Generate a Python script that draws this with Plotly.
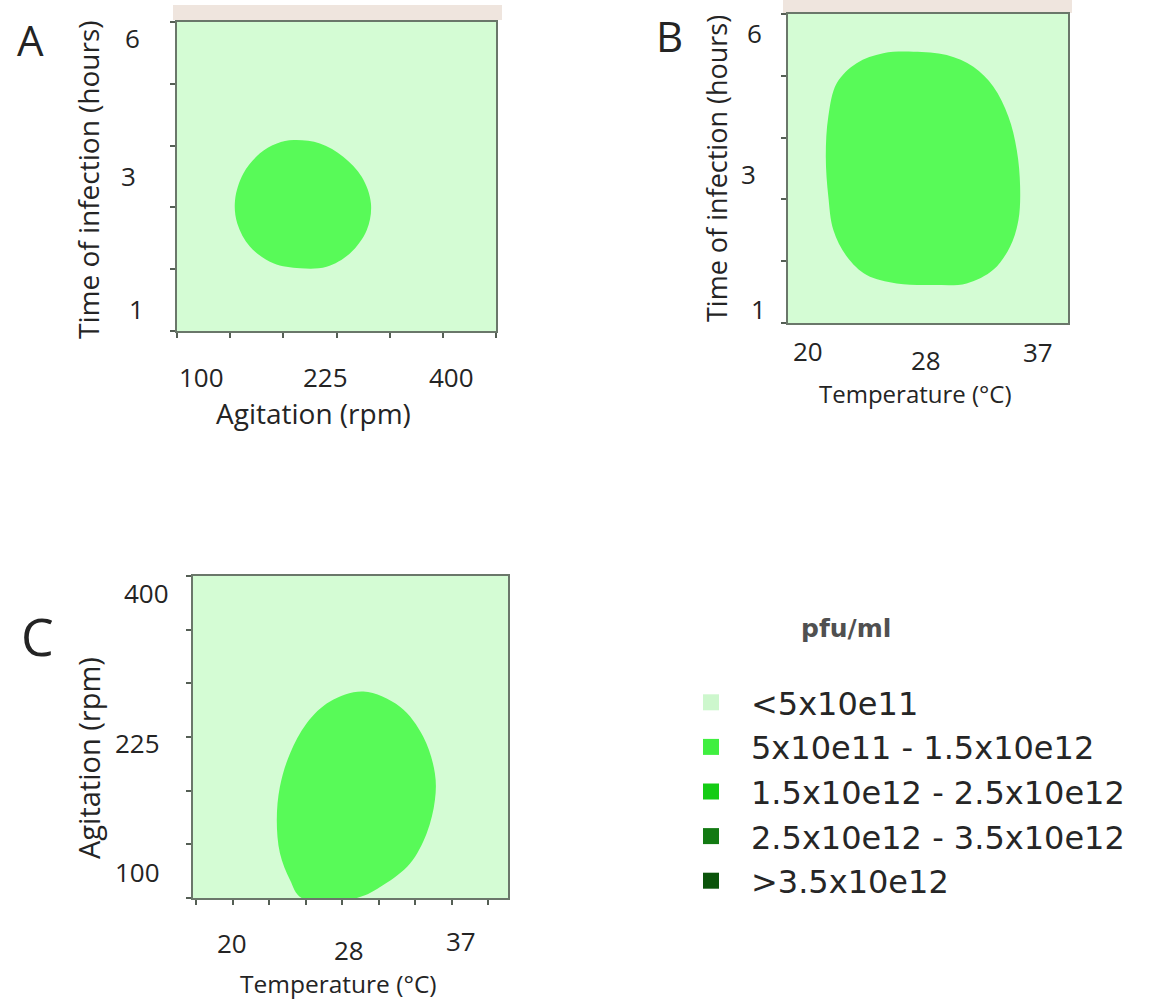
import plotly.graph_objects as go

W, H = 1152, 999

# ---- response classes (pfu/ml) ----
pfu_classes = ["<5x10e11", "5x10e11 - 1.5x10e12", "1.5x10e12 - 2.5x10e12",
               "2.5x10e12 - 3.5x10e12", ">3.5x10e12"]
class_colors = ["#cdf7cd", "#40ef40", "#14cc14", "#137a13", "#0b540b"]
low_color = "#d4fcd4"      # "<5x10e11" region
band_color = "#58fa58"     # "5x10e11 - 1.5x10e12" region

# ---- panel A: agitation (scaled 0-1 over plotted range) vs time of infection ----
a_agitation = [0.366, 0.448, 0.521, 0.579, 0.608, 0.595, 0.542, 0.469, 0.386, 0.302,
               0.229, 0.189, 0.182, 0.208, 0.260, 0.313, 0.366]
a_time = [0.618, 0.607, 0.564, 0.499, 0.413, 0.327, 0.251, 0.208, 0.203, 0.219,
          0.273, 0.348, 0.424, 0.510, 0.575, 0.607, 0.618]

# ---- panel B: temperature vs time of infection ----
b_temperature = [0.448, 0.567, 0.662, 0.733, 0.787, 0.817, 0.829, 0.823, 0.793, 0.733,
                 0.638, 0.519, 0.388, 0.281, 0.210, 0.162, 0.144, 0.135, 0.144, 0.174,
                 0.245, 0.340, 0.448]
b_time = [0.878, 0.867, 0.829, 0.765, 0.668, 0.560, 0.441, 0.333, 0.247, 0.172,
          0.128, 0.123, 0.128, 0.155, 0.215, 0.301, 0.409, 0.538, 0.668, 0.776,
          0.841, 0.873, 0.878]

# ---- panel C: temperature vs agitation ----
c_temperature = [0.541, 0.657, 0.731, 0.768, 0.768, 0.742, 0.689, 0.604, 0.520, 0.345,
                 0.308, 0.276, 0.266, 0.276, 0.308, 0.361, 0.435, 0.541]
c_agitation = [0.641, 0.594, 0.501, 0.387, 0.304, 0.201, 0.107, 0.040, 0.0, 0.0,
               0.056, 0.139, 0.242, 0.346, 0.449, 0.543, 0.610, 0.641]

# ---- tick labels ----
a_x_ticktext = ["100", "225", "400"]
a_y_ticktext = ["6", "3", "1"]
b_x_ticktext = ["20", "28", "37"]
b_y_ticktext = ["6", "3", "1"]
c_x_ticktext = ["20", "28", "37"]
c_y_ticktext = ["400", "225", "100"]


def px(x):
    return x / W


def py(y):
    return 1 - y / H


AX_FONT = "Open Sans"
TXT = "#242424"
FRAME = "#6a776a"

fig = go.Figure()

blob_kw = dict(mode="lines", fill="toself", fillcolor=band_color,
               line=dict(width=0, shape="spline", smoothing=1, color=band_color),
               hoverinfo="skip", showlegend=False)
fig.add_trace(go.Scatter(x=a_agitation, y=a_time, xaxis="x", yaxis="y", **blob_kw))
fig.add_trace(go.Scatter(x=b_temperature, y=b_time, xaxis="x2", yaxis="y2", **blob_kw))
fig.add_trace(go.Scatter(x=c_temperature, y=c_agitation, xaxis="x3", yaxis="y3", **blob_kw))

# legend entries
for name, col in zip(pfu_classes, class_colors):
    fig.add_trace(go.Scatter(x=[None], y=[None], mode="markers", name=name,
                             marker=dict(symbol="square", size=16, color=col),
                             xaxis="x", yaxis="y"))


def axis(domain, ticks, dtick=None, tick0=0.0):
    d = dict(domain=domain, range=[0, 1], showgrid=False, zeroline=False,
             showline=True, linecolor=FRAME, linewidth=2, mirror=True,
             showticklabels=False, fixedrange=True)
    if ticks:
        d.update(ticks="outside", ticklen=5, tickwidth=1.5, tickcolor="#555f55",
                 tickmode="linear", tick0=tick0, dtick=dtick)
    else:
        d.update(ticks="")
    return d


fig.update_layout(
    width=W, height=H,
    margin=dict(l=0, r=0, t=0, b=0),
    paper_bgcolor="white",
    plot_bgcolor=low_color,
    xaxis=axis([px(177), px(496)], True, 1 / 6),
    yaxis=axis([py(331), py(22)], True, 0.2),
    xaxis2=axis([px(788), px(1068)], False),
    yaxis2=axis([py(323), py(14)], True, 0.2),
    xaxis3=axis([px(193), px(508)], True, 36.5 / 315, 3 / 315),
    yaxis3=axis([py(898), py(576)], True, 1 / 6),
    legend=dict(x=px(671), y=py(675), xanchor="left", yanchor="top",
                font=dict(family="DejaVu Sans", size=32, color="#262626"),
                itemwidth=70, bgcolor="rgba(0,0,0,0)", borderwidth=0,
                itemclick=False, itemdoubleclick=False),
    showlegend=True,
)
for k in ["yaxis", "yaxis2", "yaxis3"]:
    pass
fig.layout.yaxis.anchor = "x"
fig.layout.xaxis.anchor = "y"
fig.layout.yaxis2.anchor = "x2"
fig.layout.xaxis2.anchor = "y2"
fig.layout.yaxis3.anchor = "x3"
fig.layout.xaxis3.anchor = "y3"

# beige header strips above panels A and B
fig.add_shape(type="rect", xref="paper", yref="paper", x0=px(173), x1=px(502),
              y0=py(20), y1=py(5), fillcolor="#efe5de", line=dict(width=0), layer="below")
fig.add_shape(type="rect", xref="paper", yref="paper", x0=px(783), x1=px(1072),
              y0=py(13), y1=py(0), fillcolor="#efe5de", line=dict(width=0), layer="below")

ann = []


def text(x, y, s, size, family=AX_FONT, color=TXT, xref="paper", yref="paper",
         angle=0, xanchor="center", bold=False):
    ann.append(dict(x=x, y=y, xref=xref, yref=yref, text=f"<b>{s}</b>" if bold else s,
                    showarrow=False, textangle=angle, xanchor=xanchor, yanchor="middle",
                    font=dict(family=family, size=size, color=color)))


# panel letters
text(px(30), py(40), "A", 42)
text(px(669), py(36), "B", 42)
text(px(37), py(635), "C", 52)

# axis titles
text(px(313), py(413), "Agitation (rpm)", 28)
text(px(88), py(180), "Time of infection (hours)", 28, angle=-90)
text(px(915), py(393), "Temperature (\u00b0C)", 24)
text(px(717), py(169), "Time of infection (hours)", 27, angle=-90)
text(px(338), py(983), "Temperature (\u00b0C)", 24.5)
text(px(88), py(758), "Agitation (rpm)", 29, angle=-90)

# tick labels, panel A
for s, xv in zip(a_x_ticktext, [0.078, 0.464, 0.862]):
    text(xv, py(377), s, 26, xref="x")
for s, yv, xp in zip(a_y_ticktext, [0.948, 0.502, 0.071], [132, 128, 136]):
    text(px(xp), yv, s, 26, yref="y")
# panel B
for s, xv, yp in zip(b_x_ticktext, [0.071, 0.493, 0.893], [351, 360, 352]):
    text(xv, py(yp), s, 26, xref="x2")
for s, yv, xp in zip(b_y_ticktext, [0.939, 0.482, 0.045], [754, 748, 758]):
    text(px(xp), yv, s, 26, yref="y2")
# panel C
for s, xv, yp in zip(c_x_ticktext, [0.124, 0.495, 0.851], [943, 950, 941]):
    text(xv, py(yp), s, 26, xref="x3")
for s, yv, xp in zip(c_y_ticktext, [0.947, 0.481, 0.081], [146, 137, 137]):
    text(px(xp), yv, s, 26, yref="y3")

# legend heading
text(px(846), py(628), "pfu/ml", 25, family="DejaVu Sans", color="#505050", bold=True)

fig.update_layout(annotations=ann)
fig.write_html("out.html")
